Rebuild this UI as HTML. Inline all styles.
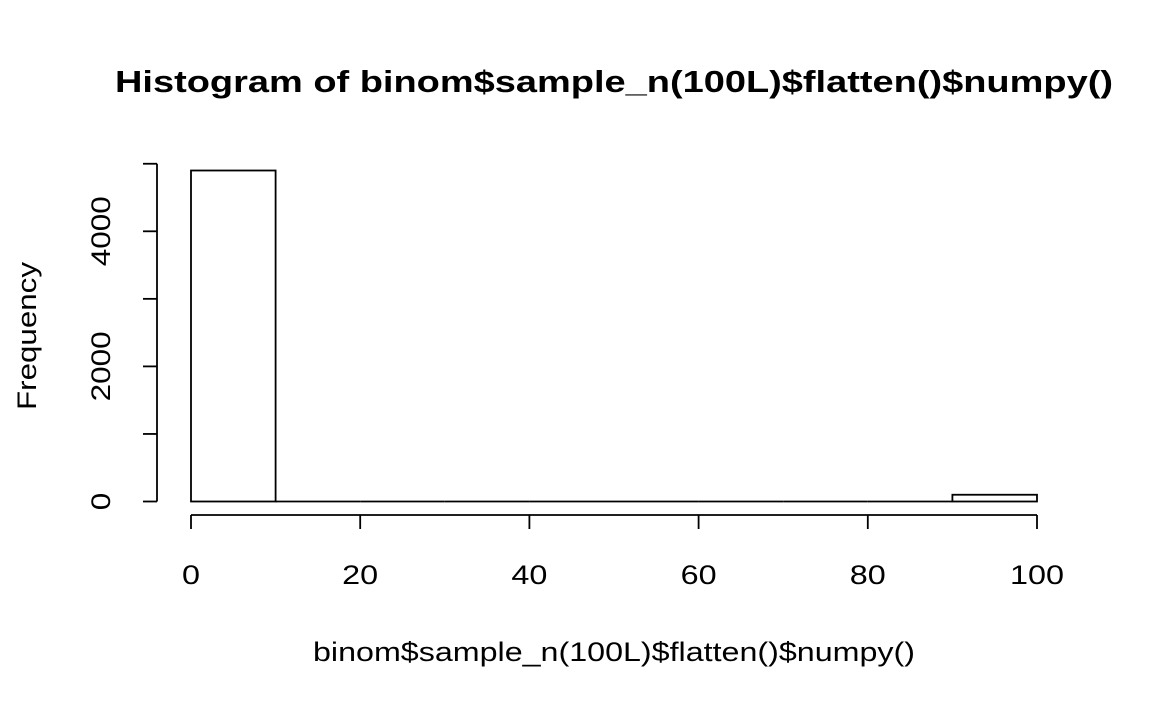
<!DOCTYPE html>
<html><head><meta charset="utf-8">
<style>
html,body{margin:0;padding:0;background:#fff;}
svg{display:block;font-family:"Liberation Sans",Arial,sans-serif;}
</style></head>
<body>
<svg id="chart" width="1152" height="711" viewBox="0 0 1152 711">
<text x="614" y="92" text-anchor="middle" font-size="31" font-weight="bold" textLength="998" lengthAdjust="spacingAndGlyphs">Histogram of binom$sample_n(100L)$flatten()$numpy()</text>
<text x="614" y="661" text-anchor="middle" font-size="27" textLength="602" lengthAdjust="spacingAndGlyphs">binom$sample_n(100L)$flatten()$numpy()</text>
<text transform="translate(36,336) rotate(-90)" text-anchor="middle" font-size="27" textLength="148" lengthAdjust="spacingAndGlyphs">Frequency</text>
<g id="bars"></g>
<g id="xaxis"></g>
<g id="yaxis"></g>
</svg>
<script>
const binEdges = [0,10,20,30,40,50,60,70,80,90,100];
const counts = [4900,0,0,0,0,0,0,0,0,100];
const xTicks = [0,20,40,60,80,100];
const yTicks = [0,1000,2000,3000,4000,5000];
const yLabels = ["0","","2000","","4000",""];

const NS = "http://www.w3.org/2000/svg";
const xs = v => 191 + (v - 0) * (1037 - 191) / 100;
const ys = v => 501.5 - v * 0.06755;
function mk(tag, attrs, parent){ const e=document.createElementNS(NS,tag); for(const k in attrs) e.setAttribute(k,attrs[k]); parent.appendChild(e); return e; }

const bars = document.getElementById('bars');
counts.forEach((c,i)=>{
  const x0=xs(binEdges[i]), x1=xs(binEdges[i+1]), y=ys(c);
  const h = ys(0)-y;
  let r;
  if(h < 0.5){
    r = mk('line',{x1:x0,x2:x1,y1:ys(0),y2:ys(0),stroke:'#000','stroke-width':1.8},bars);
  } else {
    r = mk('rect',{x:x0,y:y,width:x1-x0,height:h,fill:'#fff',stroke:'#000','stroke-width':1.8},bars);
  }
  
  
});

const xa = document.getElementById('xaxis');
mk('line',{x1:xs(xTicks[0]),x2:xs(xTicks[xTicks.length-1]),y1:515,y2:515,stroke:'#000','stroke-width':1.8},xa);
xTicks.forEach(t=>{
  mk('line',{x1:xs(t),x2:xs(t),y1:515,y2:529,stroke:'#000','stroke-width':1.8},xa);
  const tx = mk('text',{x:xs(t),y:584,'text-anchor':'middle','font-size':27,textLength:String(t).length*18,lengthAdjust:'spacingAndGlyphs'},xa);
  tx.textContent = t;
  
  
});

const ya = document.getElementById('yaxis');
mk('line',{x1:157,x2:157,y1:ys(yTicks[0]),y2:ys(yTicks[yTicks.length-1]),stroke:'#000','stroke-width':1.8},ya);
yTicks.forEach((t,i)=>{
  mk('line',{x1:143,x2:157,y1:ys(t),y2:ys(t),stroke:'#000','stroke-width':1.8},ya);
  if(yLabels[i]){
    const tx = mk('text',{transform:`translate(110,${ys(t)}) rotate(-90)`,'text-anchor':'middle','font-size':27,textLength:yLabels[i].length*17.5,lengthAdjust:'spacingAndGlyphs'},ya);
    tx.textContent = yLabels[i];
    
    
  }
});
</script>
</body></html>
